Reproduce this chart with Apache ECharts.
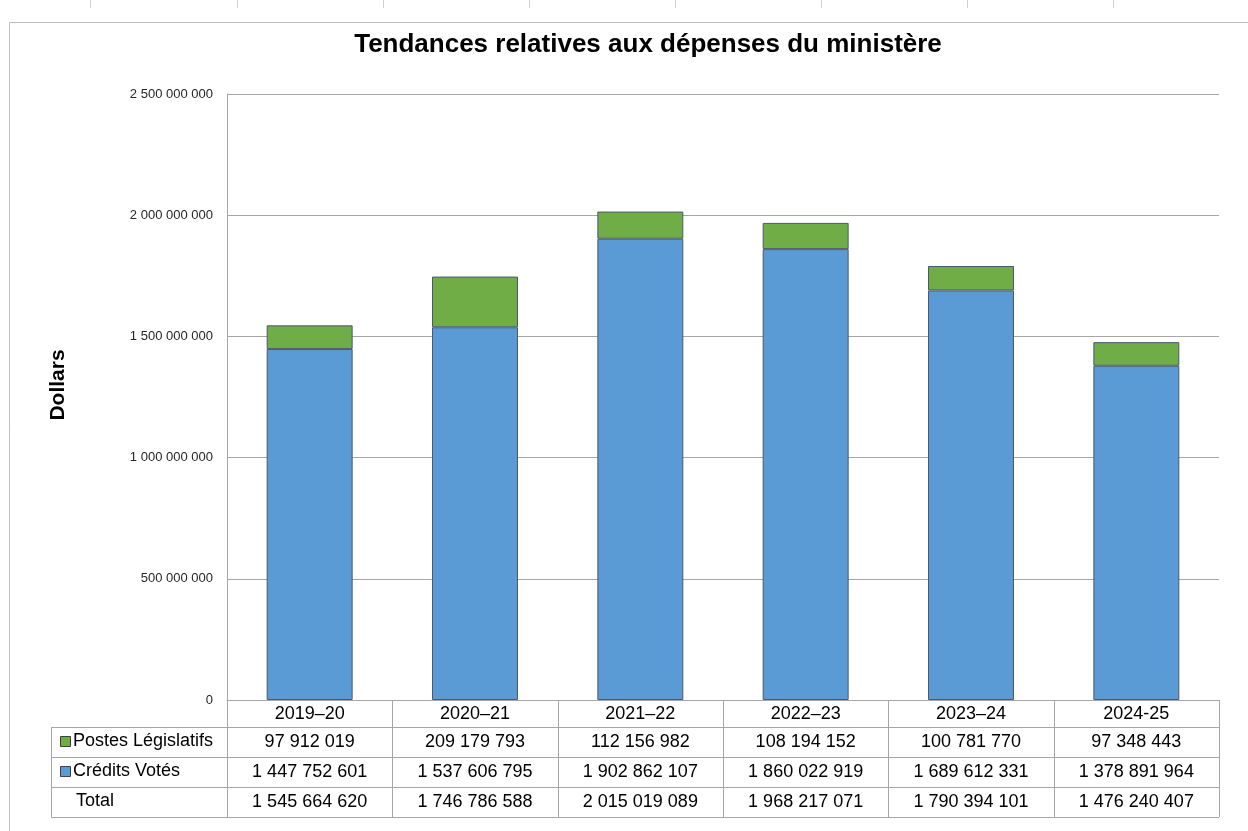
<!DOCTYPE html>
<html><head><meta charset="utf-8">
<script src="https://cdn.jsdelivr.net/npm/echarts@6/dist/echarts.min.js"></script>
<style>html,body{margin:0;padding:0;background:#fff}#c{width:1248px;height:831px}</style>
</head><body><div id="c"></div>
<script>
const categories = ['2019–20','2020–21','2021–22','2022–23','2023–24','2024-25'];
const postesLegislatifs = [97912019, 209179793, 112156982, 108194152, 100781770, 97348443];
const creditsVotes = [1447752601, 1537606795, 1902862107, 1860022919, 1689612331, 1378891964];
const totals = [1545664620, 1746786588, 2015019089, 1968217071, 1790394101, 1476240407];
const yTicks = {min: 0, max: 2500000000, interval: 500000000};
const rowNames = ['Postes Législatifs', 'Crédits Votés', 'Total'];

function fmt(n){ return String(n).replace(/\B(?=(\d{3})+(?!\d))/g, ' '); }
const FONT = '"Liberation Sans", Arial, sans-serif';
const BLUE = '#5B9BD5', GREEN = '#70AD47';

const chart = echarts.init(document.getElementById('c'), null, {renderer:'canvas'});
const option = {
  animation: false,
  backgroundColor: '#fff',
  title: {text: 'Tendances relatives aux dépenses du ministère', left: 643, top: 27, textAlign: 'center',
    textStyle: {fontFamily: FONT, fontSize: 26, fontWeight: 'bold', color: '#000'}},
  grid: {left: 227, right: 29, top: 94, bottom: 131},
  xAxis: {type: 'category', data: categories,
    axisLine: {lineStyle: {color: '#a6a6a6'}}, axisTick: {show: false},
    axisLabel: {fontFamily: FONT, fontSize: 18, color: '#000', margin: 5}},
  yAxis: {type: 'value', min: yTicks.min, max: yTicks.max, interval: yTicks.interval,
    axisLine: {show: true, lineStyle: {color: '#a6a6a6'}}, axisTick: {show: false},
    splitLine: {lineStyle: {color: '#a6a6a6'}},
    axisLabel: {fontFamily: FONT, fontSize: 13, color: '#262626', margin: 14, formatter: v => fmt(v)}},
  series: [
    {name: 'Crédits Votés', type: 'bar', stack: 't', data: creditsVotes, barWidth: '52%',
      itemStyle: {color: BLUE, borderColor: '#4a5a6e', borderWidth: 1}},
    {name: 'Postes Législatifs', type: 'bar', stack: 't', data: postesLegislatifs, barWidth: '52%',
      itemStyle: {color: GREEN, borderColor: '#4a5a6e', borderWidth: 1}}
  ]
};
chart.setOption(option);

// Build data table below the axis
const x0 = chart.convertToPixel({xAxisIndex: 0}, 0);
const x1 = chart.convertToPixel({xAxisIndex: 0}, 1);
const band = x1 - x0;
const yBase = chart.convertToPixel({yAxisIndex: 0}, 0);
const leftPlot = x0 - band / 2;
const rightPlot = leftPlot + band * categories.length;
const tableLeft = 51;
const headerH = 27, rowH = 30;
const lineColor = '#a6a6a6';
const g = [];
const L = (xa, ya, xb, yb) => g.push({type: 'line', shape: {x1: xa, y1: ya, x2: xb, y2: yb}, style: {stroke: lineColor, lineWidth: 1}, silent: true});
const bottom = yBase + headerH + rowH * 3;
for (let i = 0; i <= categories.length; i++) {
  const xx = Math.round(leftPlot + band * i) + 0.5;
  L(xx, yBase, xx, bottom);
}
L(tableLeft + 0.5, yBase + headerH, tableLeft + 0.5, bottom);
L(leftPlot, yBase + 0.5, rightPlot, yBase + 0.5);
for (let r = 0; r <= 3; r++) {
  const yy = Math.round(yBase + headerH + rowH * r) + 0.5;
  L(tableLeft, yy, rightPlot, yy);
}
const rows = [postesLegislatifs, creditsVotes, totals];
const keyColors = [GREEN, BLUE, null];
rows.forEach((arr, r) => {
  const cy = yBase + headerH + rowH * r + rowH / 2;
  if (keyColors[r]) {
    g.push({type: 'rect', shape: {x: 60.5, y: Math.round(cy - 6) + 0.5, width: 10, height: 10},
      style: {fill: keyColors[r], stroke: '#404040', lineWidth: 1}, silent: true});
  }
  g.push({type: 'text', x: r === 2 ? 76 : 73, y: cy - 1, style: {text: rowNames[r], font: '18px ' + FONT, fill: '#000', verticalAlign: 'middle'}, silent: true});
  arr.forEach((v, i) => {
    g.push({type: 'text', x: leftPlot + band * i + band / 2, y: cy, style: {text: fmt(v), font: '18px ' + FONT, fill: '#000', align: 'center', verticalAlign: 'middle'}, silent: true});
  });
});
// y-axis title
g.push({type: 'text', x: 58, y: 385, rotation: Math.PI / 2, style: {text: 'Dollars', font: 'bold 21px ' + FONT, fill: '#000', align: 'center', verticalAlign: 'middle'}, silent: true});
// outer frame and top markers
g.push({type: 'line', shape: {x1: 9.5, y1: 22.5, x2: 1248, y2: 22.5}, style: {stroke: '#bfbfbf', lineWidth: 1}, silent: true});
g.push({type: 'line', shape: {x1: 9.5, y1: 22.5, x2: 9.5, y2: 831}, style: {stroke: '#bfbfbf', lineWidth: 1}, silent: true});
[90, 237, 383, 529, 675, 821, 967, 1113].forEach(xx => {
  g.push({type: 'line', shape: {x1: xx + 0.5, y1: 0, x2: xx + 0.5, y2: 8}, style: {stroke: '#d0d0d0', lineWidth: 1}, silent: true});
});
chart.setOption({graphic: g});
</script></body></html>
